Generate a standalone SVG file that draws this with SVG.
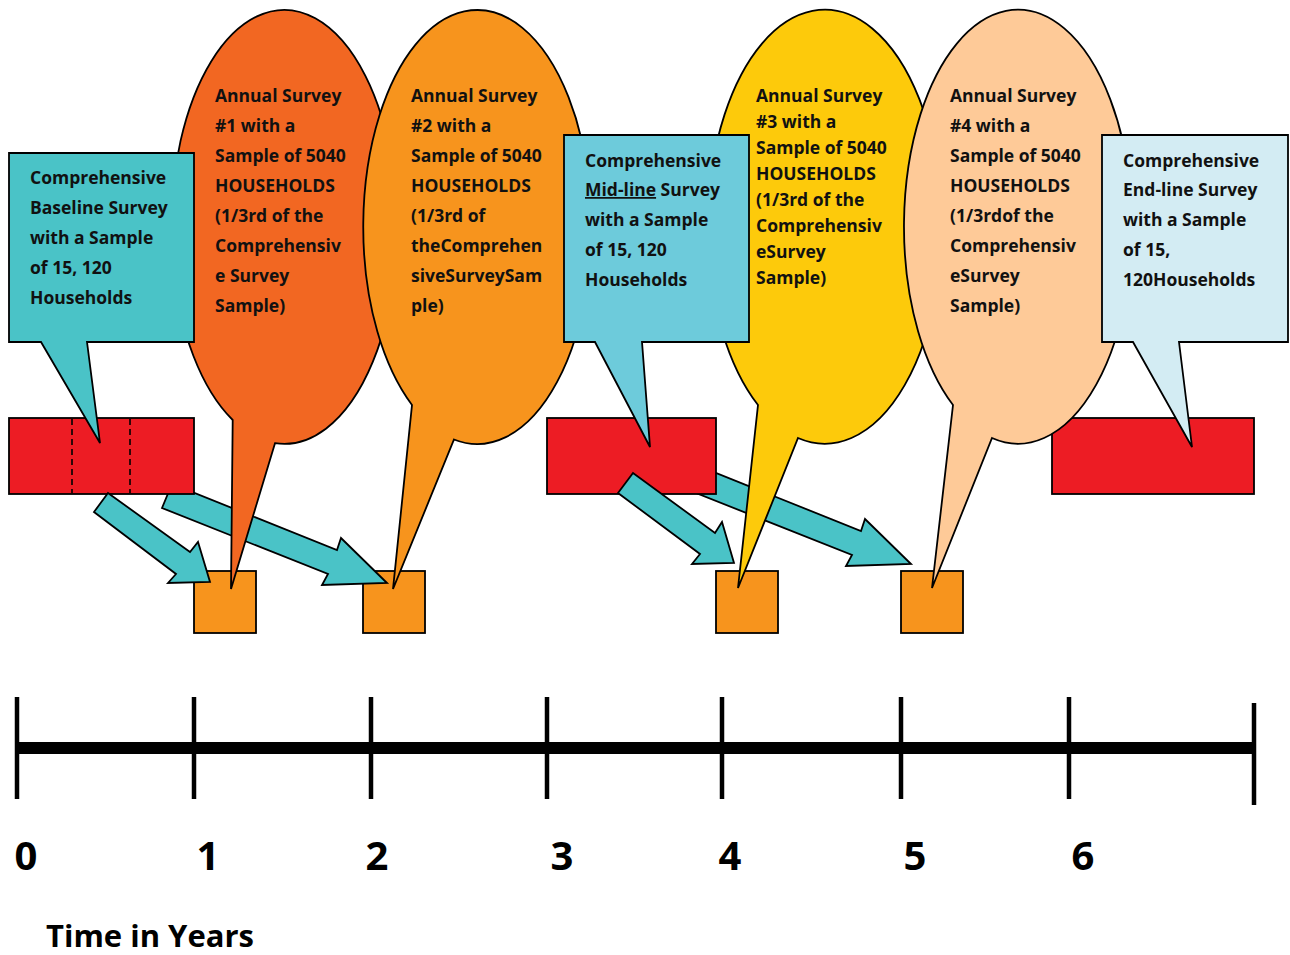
<svg xmlns="http://www.w3.org/2000/svg" width="1290" height="955" viewBox="0 0 1290 955">
<style>
.o{stroke:#000;stroke-width:1.8;stroke-linejoin:miter}
.t{font-family:"Open Sans","Liberation Sans",sans-serif;font-weight:bold;font-size:17.5px;fill:#111}
.red{fill:#ED1C24}
.sq{fill:#F7941D}
.arr{fill:#4AC3C7}
.tick{stroke:#000;stroke-width:4.5}
.num{font-family:"Open Sans","Liberation Sans",sans-serif;font-weight:bold;font-size:40px;fill:#000}
</style>
<rect width="1290" height="955" fill="#fff"/>

<g id="squares">
<rect class="sq o" x="194" y="571" width="62" height="62"/>
<rect class="sq o" x="363" y="571" width="62" height="62"/>
<rect class="sq o" x="716" y="571" width="62" height="62"/>
<rect class="sq o" x="901" y="571" width="62" height="62"/>
</g>

<g id="connectors">
<polygon class="arr o" points="162,508 172,484 337,550 341,538 387,583 322,585 328,574"/>
<polygon class="arr o" points="686,489 696,465 861,531 865,519 911,564 846,566 852,555"/>
</g>

<g id="periods">
<rect class="red o" x="9" y="418" width="185" height="76"/>
<line x1="72" y1="419" x2="72" y2="493" stroke="#000" stroke-width="1.6" stroke-dasharray="6,4"/>
<line x1="130" y1="419" x2="130" y2="493" stroke="#000" stroke-width="1.6" stroke-dasharray="6,4"/>
<rect class="red o" x="547" y="418" width="169" height="76"/>
<rect class="red o" x="1052" y="418" width="202" height="76"/>
</g>

<g id="connectors-short">
<polygon class="arr o" points="94,512 108,493 190,552 198,542 210,582 168,583 176,574"/>
<polygon class="arr o" points="618,493 633,473 715,533 722,522 734,563 692,564 700,554"/>
</g>

<g id="annual1">
<path class="o" fill="#F26722" d="M232.7,420 A113,217 0 1 1 275,443.2 L231,589 Z"/>
<text class="t" x="215"><tspan x="215" y="102">Annual Survey</tspan><tspan x="215" y="132">#1 with a</tspan><tspan x="215" y="162">Sample of 5040</tspan><tspan x="215" y="192">HOUSEHOLDS</tspan><tspan x="215" y="222">(1/3rd of the</tspan><tspan x="215" y="252">Comprehensiv</tspan><tspan x="215" y="282">e Survey</tspan><tspan x="215" y="312">Sample)</tspan></text>
</g>

<g id="annual2">
<path class="o" fill="#F7941D" d="M412,405 A114,217 0 1 1 454,439.5 L393,589 Z"/>
<text class="t"><tspan x="411" y="102">Annual Survey</tspan><tspan x="411" y="132">#2 with a</tspan><tspan x="411" y="162">Sample of 5040</tspan><tspan x="411" y="192">HOUSEHOLDS</tspan><tspan x="411" y="222">(1/3rd of</tspan><tspan x="411" y="252">theComprehen</tspan><tspan x="411" y="282">siveSurveySam</tspan><tspan x="411" y="312">ple)</tspan></text>
</g>

<g id="annual3">
<path class="o" fill="#FDCA0B" d="M758,405 A117,217 0 1 1 798,438 L738,588 Z"/>
<text class="t"><tspan x="756" y="102">Annual Survey</tspan><tspan x="756" y="128">#3 with a</tspan><tspan x="756" y="154">Sample of 5040</tspan><tspan x="756" y="180">HOUSEHOLDS</tspan><tspan x="756" y="206">(1/3rd of the</tspan><tspan x="756" y="232">Comprehensiv</tspan><tspan x="756" y="258">eSurvey</tspan><tspan x="756" y="284">Sample)</tspan></text>
</g>

<g id="annual4">
<path class="o" fill="#FECA98" d="M953,405 A114,217 0 1 1 992,438 L932,588 Z"/>
<text class="t"><tspan x="950" y="102">Annual Survey</tspan><tspan x="950" y="132">#4 with a</tspan><tspan x="950" y="162">Sample of 5040</tspan><tspan x="950" y="192">HOUSEHOLDS</tspan><tspan x="950" y="222">(1/3rdof the</tspan><tspan x="950" y="252">Comprehensiv</tspan><tspan x="950" y="282">eSurvey</tspan><tspan x="950" y="312">Sample)</tspan></text>
</g>

<g id="baseline">
<polygon class="o" fill="#4AC3C7" points="9,153 194,153 194,342 87,342 100,443 41,342 9,342"/>
<text class="t"><tspan x="30" y="184">Comprehensive</tspan><tspan x="30" y="214">Baseline Survey</tspan><tspan x="30" y="244">with a Sample</tspan><tspan x="30" y="274">of 15, 120</tspan><tspan x="30" y="304">Households</tspan></text>
</g>

<g id="midline">
<polygon class="o" fill="#6DCBDB" points="564,135 749,135 749,342 642,342 650,447 595,342 564,342"/>
<text class="t"><tspan x="585" y="167">Comprehensive</tspan><tspan x="585" y="196" text-decoration="underline">Mid-line</tspan><tspan> Survey</tspan><tspan x="585" y="226">with a Sample</tspan><tspan x="585" y="256">of 15, 120</tspan><tspan x="585" y="286">Households</tspan></text>
</g>

<g id="endline">
<polygon class="o" fill="#D3ECF3" points="1102,135 1288,135 1288,342 1179,342 1192,447 1133,342 1102,342"/>
<text class="t"><tspan x="1123" y="167">Comprehensive</tspan><tspan x="1123" y="196">End-line Survey</tspan><tspan x="1123" y="226">with a Sample</tspan><tspan x="1123" y="256">of 15,</tspan><tspan x="1123" y="286">120Households</tspan></text>
</g>

<g id="axis">
<line x1="15" y1="748" x2="1254" y2="748" stroke="#000" stroke-width="12"/>
<line class="tick" x1="17" y1="697" x2="17" y2="799"/>
<line class="tick" x1="194" y1="697" x2="194" y2="799"/>
<line class="tick" x1="371" y1="697" x2="371" y2="799"/>
<line class="tick" x1="547" y1="697" x2="547" y2="799"/>
<line class="tick" x1="722" y1="697" x2="722" y2="799"/>
<line class="tick" x1="901" y1="697" x2="901" y2="799"/>
<line class="tick" x1="1069" y1="697" x2="1069" y2="799"/>
<line class="tick" x1="1254" y1="703" x2="1254" y2="805"/>
<text class="num" x="26" y="870" text-anchor="middle">0</text>
<text class="num" x="208" y="870" text-anchor="middle">1</text>
<text class="num" x="377" y="870" text-anchor="middle">2</text>
<text class="num" x="562" y="870" text-anchor="middle">3</text>
<text class="num" x="730" y="870" text-anchor="middle">4</text>
<text class="num" x="915" y="870" text-anchor="middle">5</text>
<text class="num" x="1083" y="870" text-anchor="middle">6</text>
<text x="46" y="947" font-family="Open Sans, Liberation Sans, sans-serif" font-weight="bold" font-size="31">Time in Years</text>
</g>
</svg>
